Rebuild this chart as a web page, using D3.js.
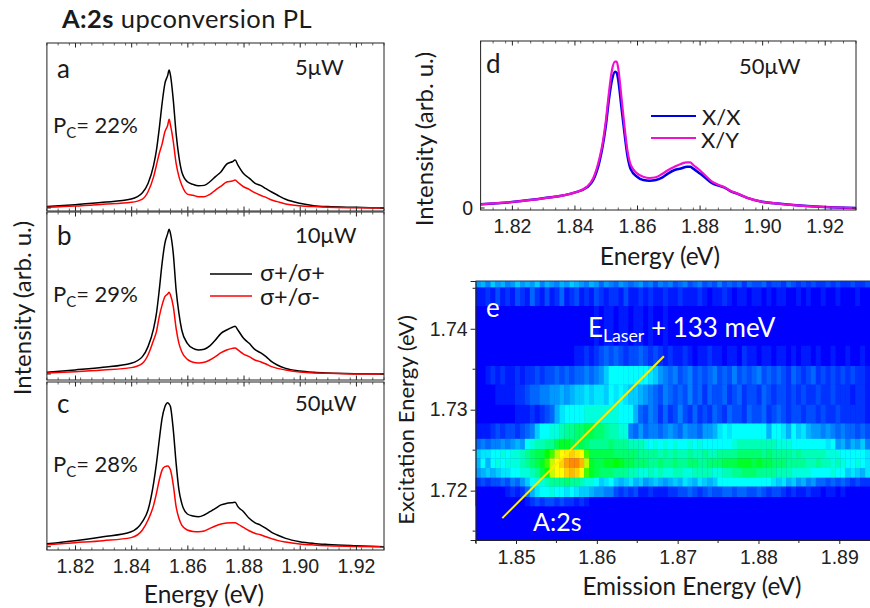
<!DOCTYPE html>
<html>
<head>
<meta charset="utf-8">
<script src="https://cdn.jsdelivr.net/npm/d3@7"></script>
<style>
  html, body { margin: 0; padding: 0; background: #fff; }
  svg { display: block; }
  text { font-family: Lato, "Open Sans", sans-serif; fill: #1a1a1a; }
  .tick text { font-family: "Liberation Sans", Arial, sans-serif; font-size: 19.5px; fill: #222; }
</style>
</head>
<body>
<svg width="870" height="608"></svg>
<script>
// shared energy grid for the spectra (eV)
var energy = [1.81,1.82,1.83,1.84,1.844,1.846,1.848,1.849,1.85,1.851,1.852,1.853,1.8535,1.854,1.855,1.856,1.857,1.858,1.86,1.862,1.864,1.866,1.868,1.87,1.872,1.874,1.876,1.877,1.878,1.88,1.882,1.884,1.886,1.888,1.89,1.892,1.895,1.90,1.905,1.91,1.92,1.93];

var aCoPol = [1,2.4,4.1,6.5,11.1,17.8,31.1,41.9,57.6,75.7,90.1,96.1,100,96.1,78,53.9,37,26.3,19,17.1,16.1,16.4,19,22.7,26.3,31.8,33.5,34.7,31.1,25,21.7,18.1,16.4,14,11.6,9.4,6.3,3.4,1.7,1,0.5,0];
var aCrossPol = [0.5,1.4,2.7,4.1,6.5,11.8,22.7,31.1,39.5,46.3,55.2,60,64.3,60,48,32.3,22.7,16.6,10.1,9.2,8.2,8.2,9.9,13,15.9,18.8,19.5,20.2,18.6,15.4,13.5,11.1,9.2,7.7,5.8,4.6,2.9,1.7,1,0.5,0.2,0];
var bCoPol = [1.2,2.8,4.6,7.4,12,18.9,31.5,41.9,58.1,76.5,90.3,97,100,97,83,58.1,41.9,30.4,21.2,17.7,16.6,17.1,19.4,23.5,28.1,30.4,32.3,33,30.4,24.7,21.2,17,14.7,12,8.5,6.2,3.9,2.1,1.2,0.7,0.2,0];
var bCrossPol = [0.7,1.6,2.8,4.4,7.4,13.1,23.5,29.3,39.6,47.6,53.5,55.3,56.5,54.6,46.5,31.6,21.2,15.4,10.1,8.1,7.6,8.1,9.7,12,14.7,16.6,17.7,18,16.6,13.8,12,9.7,8.5,6.9,5.1,3.9,2.8,1.4,0.7,0.5,0,0];
var cCoPol = [2.1,4.2,6.9,10.4,17.4,25.5,44.4,57.9,74.1,89.1,97.2,100,99.1,97.2,81,57.9,39.4,30.1,22.7,21.3,20.8,22,24.3,26.6,29,30.1,30.6,30.8,27.8,24.3,19.7,16.7,15,12.7,10,8.1,5.8,3.5,2.3,1.6,0.7,0];
var cCrossPol = [1.4,2.8,4.2,6.3,11.6,18.5,28.9,37,46.3,53.2,55.6,56,55.3,53.2,42.8,27.8,19.7,15,11.6,10.6,10.4,10.9,12.7,14.4,15.7,16.4,16.7,16.7,15.7,13.4,11.1,9.3,8.3,6.9,5.6,4.4,3.2,1.9,1.2,0.7,0.2,0];
var dXX = [2.5,4.1,6.6,10.5,14.1,19.1,31.7,42,55.6,73.8,87.5,93.2,92.5,87.5,69.2,51,35,26.4,21.4,19.1,18.7,19.1,20.7,23.7,26,27,28.2,28.2,26.9,23.7,20.3,16.9,15.3,13.9,11.4,9.8,7.1,4.3,3,2,0.7,0];
var dXY = [2.5,4.1,6.6,10.5,14.6,20.3,34,44.2,59,78.4,94.3,100,100,95.4,76.1,55.6,38.5,29.4,23.7,21.4,20.5,21,23.2,26,28.2,30.1,31.2,31.2,29.4,26,21.9,18,15.9,14.1,11.6,10,7.1,4.3,3,2,0.7,0];

var energyTicks = [1.82,1.84,1.86,1.88,1.90,1.92];
var emissionTicks = [1.85,1.86,1.87,1.88,1.89];
var excitationTicks = [1.72,1.73,1.74];

// map panel: excitation band edges (eV), top to bottom
var excitationEdges = [1.7459,1.7451,1.7428,1.7379,1.7354,1.7331,1.7306,1.7283,1.7264,1.7251,1.724,1.7228,1.7216,1.7205,1.7192,1.7181];
var emissionStart = 1.845, emissionStep = 0.00061;

// one row per excitation band, 80 emission columns. 0 blue, 10 cyan, 17 green, 21 yellow
var mapRows = [
[6,7,5,8,6,7,5,6,8,6,7,6,8,5,7,6,5,7,6,8,7,6,5,7,6,4,6,5,4,6,5,4,5,6,4,5,3,5,4,5,3,4,5,3,4,5,3,4,3,5,3,4,3,4,2,4,3,3,4,2,3,3,2,4,3,2,3,2,3,2,2,3,2,3,2,2,3,2,2,3],
[1,1,2,1,3,1,2,1,3,2,1,4,2,1,3,1,2,4,1,2,3,1,2,1,3,2,1,2,2,1,3,1,1,2,1,2,1,1,2,1,1,2,1,1,1,2,1,0,1,1,2,1,0,1,1,0,1,1,0,1,0,1,1,0,0,1,0,1,0,0,1,0,0,1,0,0,0,1,0,0],
[0,0,0,0,0,0,0,0,0,0,0,0,0,0,0,0,0,0,0,0,0,0,0,0,1,0,1,1,0,1,1,0,1,1,0,1,0,0,1,0,0,0,0,0,0,0,0,0,0,0,0,0,0,0,0,0,0,0,0,0,0,0,0,0,0,0,0,0,0,0,0,0,0,0,0,0,0,0,0,0],
[0,0,0,0,0,0,0,0,0,0,0,0,0,0,0,0,0,0,0,0,1,1,2,1,2,3,4,3,4,3,2,3,3,4,3,2,3,2,1,2,1,1,2,1,0,1,1,2,1,1,0,1,1,0,2,1,1,0,1,1,0,1,1,0,1,0,1,1,0,1,0,0,1,0,0,1,0,0,1,0],
[0,0,1,2,1,2,1,1,2,1,2,2,3,2,3,3,4,3,4,3,4,4,5,4,5,6,8,10,10,10,10,10,10,10,10,9,8,6,5,4,5,3,4,5,3,4,3,4,5,3,4,3,5,3,4,3,4,5,3,4,3,4,3,2,4,3,2,3,4,2,3,2,3,2,3,2,3,2,2,1],
[0,0,0,0,1,1,1,1,2,2,3,4,4,5,5,6,6,7,6,7,8,8,9,8,9,9,8,10,9,10,9,8,8,7,6,5,4,3,5,4,3,4,3,5,3,4,2,4,3,3,4,2,3,4,2,3,3,2,4,3,2,3,3,2,3,2,3,2,2,3,2,2,3,2,2,2,1,2,2,1],
[0,0,0,0,0,0,0,0,1,1,1,2,1,2,3,4,7,9,10,10,10,10,11,11,11,11,11,11,11,10,10,10,7,4,3,5,4,2,4,2,3,5,3,2,4,2,3,2,4,3,2,4,3,3,2,4,3,3,4,2,3,4,3,2,3,3,2,3,3,2,3,2,2,3,2,2,2,2,2,1],
[1,1,1,2,3,2,3,3,2,3,4,5,8,10,10,11,11,12,13,13,14,14,15,15,14,14,13,12,12,11,11,5,4,6,4,5,5,4,5,6,5,4,6,5,5,4,6,6,7,9,10,9,10,10,10,10,10,10,10,7,10,10,9,7,10,8,9,7,6,6,5,6,5,4,5,4,4,3,4,3],
[4,5,4,5,5,6,5,6,7,6,10,11,12,12,13,13,15,16,16,15,14,15,14,13,13,13,13,14,13,13,13,12,12,12,11,10,11,10,11,10,11,10,10,11,10,11,10,10,10,10,10,10,11,12,12,12,12,12,12,12,12,11,11,11,10,10,10,10,10,10,10,9,10,6,7,5,7,6,8,5],
[8,9,9,10,10,11,10,11,11,12,13,14,15,15,17,18,20,21,22,23,22,21,18,15,15,15,15,15,14,14,14,14,14,13,13,13,13,12,13,12,13,12,12,13,12,12,13,12,12,13,13,13,13,14,14,14,14,14,13,14,13,13,13,13,12,13,12,12,12,12,12,11,11,11,10,10,10,10,10,9],
[7,10,7,10,11,10,11,11,11,12,13,14,15,16,18,20,21,23,25,26,26,24,20,16,15,15,16,16,17,16,15,15,14,14,14,13,13,14,13,13,14,13,13,14,14,13,13,14,14,14,15,15,15,16,16,16,15,16,15,15,14,14,14,13,13,13,13,12,12,13,12,12,11,12,11,10,10,11,10,9],
[6,7,8,7,8,9,9,10,10,11,11,12,13,15,17,20,21,21,23,24,23,21,18,16,15,14,14,14,13,13,13,12,12,11,11,12,11,12,11,11,12,12,11,11,12,12,12,12,11,11,12,12,13,13,14,14,14,13,13,13,13,12,12,12,11,11,11,11,10,10,10,10,11,10,10,8,9,8,7,9],
[2,3,2,3,3,4,3,5,4,6,8,10,11,11,12,13,13,13,14,13,13,12,11,11,10,8,9,10,8,7,8,9,7,8,6,7,8,7,6,7,8,7,9,8,7,9,8,7,8,10,10,10,10,10,10,10,10,10,10,10,9,8,9,7,8,6,7,5,6,4,4,3,4,3,4,3,2,3,2,2],
[0,0,0,0,0,0,1,2,1,2,4,7,9,10,10,11,10,10,9,10,9,8,8,7,6,6,5,5,3,2,3,2,3,1,1,2,1,1,1,2,2,3,3,4,3,2,3,4,3,3,4,4,3,4,4,3,3,4,3,2,3,3,2,1,2,1,1,2,1,1,0,1,1,0,1,0,0,0,0,0],
[0,0,0,0,0,0,0,0,0,0,1,2,3,2,3,3,2,3,2,2,1,2,1,0,0,0,0,0,0,0,0,0,0,0,0,0,0,0,0,0,0,0,0,0,0,0,0,0,0,0,0,0,0,0,0,0,0,0,0,0,0,0,0,0,0,0,0,0,0,0,0,0,0,0,0,0,0,0,0,0]
];

var laserEmission = [1.8483, 1.8683];
var laserExcitation = [1.7166, 1.7366];

var svg = d3.select("svg");
var ink = "#222";

function label(x, y, str, size, opts) {
  opts = opts || {};
  var t = svg.append("text")
    .attr("x", x).attr("y", y)
    .attr("font-size", size)
    .attr("text-anchor", opts.anchor || "start")
    .text(str);
  if (opts.fill) t.style("fill", opts.fill);
  if (opts.weight) t.attr("font-weight", opts.weight);
  if (opts.rotate) t.attr("transform", "rotate(-90," + x + "," + y + ")");
  return t;
}

// label with a lowered subscript, e.g. P_C= 22%
function subLabel(x, y, a, sub, b, size, fill) {
  var t = label(x, y, a, size, {fill: fill});
  t.append("tspan").attr("dy", 5).attr("font-size", size * 0.68).text(sub);
  t.append("tspan").attr("dy", -5).text(b);
}

function minorTicks(lo, hi, step) {
  var out = [];
  var n = Math.round((hi - lo) / step);
  for (var i = 0; i <= n; i++) out.push(lo + i * step);
  return out;
}

function spectrumPanel(p) {
  var x = d3.scaleLinear().domain([1.81, 1.93]).range([p.left, p.right]);
  var y = d3.scaleLinear().domain([0, 100]).range([p.y0, p.y100]);
  var minors = minorTicks(1.81, 1.93, 0.004);

  var line = d3.line()
    .x(function(d, i) { return x(energy[i]); })
    .y(function(d) { return y(d); })
    .curve(d3.curveMonotoneX);

  p.series.forEach(function(s) {
    svg.append("path").attr("d", line(s.values))
      .attr("fill", "none").attr("stroke", s.color).attr("stroke-width", s.width);
  });

  // frame
  svg.append("rect").attr("x", p.left).attr("y", p.top)
    .attr("width", p.right - p.left).attr("height", p.bottom - p.top)
    .attr("fill", "none").attr("stroke", ink).attr("stroke-width", 1);

  // inward ticks top and bottom, major + minor
  [[p.bottom, -1], [p.top, 1]].forEach(function(e) {
    svg.append("g").selectAll("line").data(minors).enter().append("line")
      .attr("x1", function(d) { return x(d); }).attr("x2", function(d) { return x(d); })
      .attr("y1", e[0]).attr("y2", e[0] + e[1] * 2.5)
      .attr("stroke", ink).attr("stroke-width", 0.7);
  });
  var bottomAxis = d3.axisBottom(x).tickValues(energyTicks).tickSize(-4.5)
    .tickFormat(p.labels ? d3.format(".2f") : "");
  var gb = svg.append("g").attr("transform", "translate(0," + p.bottom + ")").call(bottomAxis);
  gb.select(".domain").remove();
  gb.selectAll("line").attr("stroke", ink);
  gb.selectAll("text").attr("dy", null).attr("y", 23);

  var topAxis = d3.axisTop(x).tickValues(energyTicks).tickSize(-4.5).tickFormat("");
  var gt = svg.append("g").attr("transform", "translate(0," + p.top + ")").call(topAxis);
  gt.select(".domain").remove();
  gt.selectAll("line").attr("stroke", ink);

  // zero tick on both sides
  svg.append("line").attr("x1", p.left).attr("x2", p.left + 4).attr("y1", y(0)).attr("y2", y(0)).attr("stroke", ink);
  svg.append("line").attr("x1", p.right - 4).attr("x2", p.right).attr("y1", y(0)).attr("y2", y(0)).attr("stroke", ink);
}

spectrumPanel({left: 46.9, right: 384, top: 43, bottom: 211, y0: 208, y100: 70,
  series: [{values: aCoPol, color: "#000", width: 1.5}, {values: aCrossPol, color: "#f00", width: 1.5}]});
spectrumPanel({left: 46.9, right: 384, top: 212, bottom: 380, y0: 374, y100: 229.3,
  series: [{values: bCoPol, color: "#000", width: 1.5}, {values: bCrossPol, color: "#f00", width: 1.5}]});
spectrumPanel({left: 46.9, right: 384, top: 382, bottom: 550, y0: 546.7, y100: 402.7, labels: true,
  series: [{values: cCoPol, color: "#000", width: 1.5}, {values: cCrossPol, color: "#f00", width: 1.5}]});
spectrumPanel({left: 480.6, right: 856, top: 41, bottom: 210, y0: 208, y100: 61.7, labels: true,
  series: [{values: dXX, color: "#0000e6", width: 2.5}, {values: dXY, color: "#f010d0", width: 2.2}]});

// heat map panel e
var mapX = d3.scaleLinear().domain([1.845, 1.8938]).range([475.6, 870]);
var mapY = d3.scaleLinear().domain([1.7139, 1.7459]).range([540, 281]);
var mapColor = d3.scaleLinear().domain([0, 10, 17, 21, 32])
  .range(["#0000ff", "#00ffff", "#00ff00", "#ffff00", "#ff0000"]);

svg.append("rect").attr("x", mapX(1.845)).attr("y", mapY(1.7459))
  .attr("width", mapX(1.8938) - mapX(1.845)).attr("height", mapY(1.7139) - mapY(1.7459))
  .attr("fill", mapColor(0));

mapRows.forEach(function(row, r) {
  svg.append("g").selectAll("rect").data(row).enter().append("rect")
    .attr("x", function(d, i) { return mapX(emissionStart + i * emissionStep); })
    .attr("y", mapY(excitationEdges[r]))
    .attr("width", mapX(emissionStart + emissionStep) - mapX(emissionStart) + 0.4)
    .attr("height", mapY(excitationEdges[r + 1] || 1.7181) - mapY(excitationEdges[r]) + 0.3)
    .attr("fill", function(d) { return mapColor(d); });
});

svg.append("line")
  .attr("x1", mapX(laserEmission[0])).attr("y1", mapY(laserExcitation[0]))
  .attr("x2", mapX(laserEmission[1])).attr("y2", mapY(laserExcitation[1]))
  .attr("stroke", "#ffee00").attr("stroke-width", 2);

var ex = svg.append("g").attr("transform", "translate(0,540)")
  .call(d3.axisBottom(mapX).tickValues(emissionTicks).tickSize(4).tickFormat(d3.format(".2f")));
ex.selectAll("line").attr("stroke", ink);
ex.select(".domain").attr("stroke", ink);
ex.selectAll("text").attr("dy", null).attr("y", 24);
svg.append("g").selectAll("line").data(minorTicks(1.845, 1.89, 0.01)).enter().append("line")
  .attr("x1", function(d) { return mapX(d); }).attr("x2", function(d) { return mapX(d); })
  .attr("y1", 540).attr("y2", 543).attr("stroke", ink);

var ey = svg.append("g").attr("transform", "translate(475.6,0)")
  .call(d3.axisLeft(mapY).tickValues(excitationTicks).tickSize(5).tickFormat(d3.format(".2f")));
ey.selectAll("line").attr("stroke", ink);
ey.select(".domain").attr("stroke", ink);
svg.append("g").selectAll("line").data(minorTicks(1.715, 1.745, 0.01)).enter().append("line")
  .attr("y1", function(d) { return mapY(d); }).attr("y2", function(d) { return mapY(d); })
  .attr("x1", 475.6).attr("x2", 472.6).attr("stroke", ink);

svg.append("line").attr("x1", 475.6).attr("x2", 870).attr("y1", 281).attr("y2", 281).attr("stroke", "#1b3a5a");

// titles and annotations
var title = label(62, 28, "A:2s", 25.5, {weight: 700}).style("letter-spacing", "0.4px");
title.append("tspan").attr("font-weight", 400).text(" upconversion PL");

label(31, 308, "Intensity (arb. u.)", 24, {anchor: "middle", rotate: true});
label(204, 603, "Energy (eV)", 24.5, {anchor: "middle"});
label(433, 139, "Intensity (arb. u.)", 24, {anchor: "middle", rotate: true});
label(660, 265, "Energy (eV)", 24.5, {anchor: "middle"});
label(692, 595, "Emission Energy (eV)", 24.3, {anchor: "middle"});
label(414, 420, "Excitation Energy (eV)", 22, {anchor: "middle", rotate: true});

label(57, 78, "a", 26);
label(57, 245, "b", 26);
label(57, 413, "c", 26);
label(486, 73, "d", 26);
label(486, 317, "e", 26, {fill: "#fff"});

label(295, 75, "5\u03bcW", 22);
label(295, 243, "10\u03bcW", 22);
label(295, 411, "50\u03bcW", 22);
label(739, 74, "50\u03bcW", 22);

subLabel(53, 133, "P", "C", "= 22%", 22);
subLabel(53, 302, "P", "C", "= 29%", 22);
subLabel(53, 472, "P", "C", "= 28%", 22);

// legends
svg.append("line").attr("x1", 210).attr("x2", 252).attr("y1", 274).attr("y2", 274).attr("stroke", "#000").attr("stroke-width", 1.5);
svg.append("line").attr("x1", 210).attr("x2", 252).attr("y1", 296).attr("y2", 296).attr("stroke", "#f00").attr("stroke-width", 1.5);
label(260, 281, "\u03c3+/\u03c3+", 23.5);
label(260, 305, "\u03c3+/\u03c3-", 23.5);

svg.append("line").attr("x1", 651).attr("x2", 696).attr("y1", 116).attr("y2", 116).attr("stroke", "#0000e6").attr("stroke-width", 2);
svg.append("line").attr("x1", 651).attr("x2", 696).attr("y1", 138).attr("y2", 138).attr("stroke", "#f010d0").attr("stroke-width", 2);
label(702, 125, "X/X", 22);
label(701, 148, "X/Y", 22);

svg.append("text").attr("x", 473).attr("y", 215).attr("text-anchor", "end")
  .attr("font-size", 19.5).style("font-family", "'Liberation Sans'").text("0");

subLabel(588, 337, "E", "Laser", " + 133 meV", 26, "#fff");
label(533, 531, "A:2s", 25, {fill: "#fff"});
</script>
</body>
</html>
